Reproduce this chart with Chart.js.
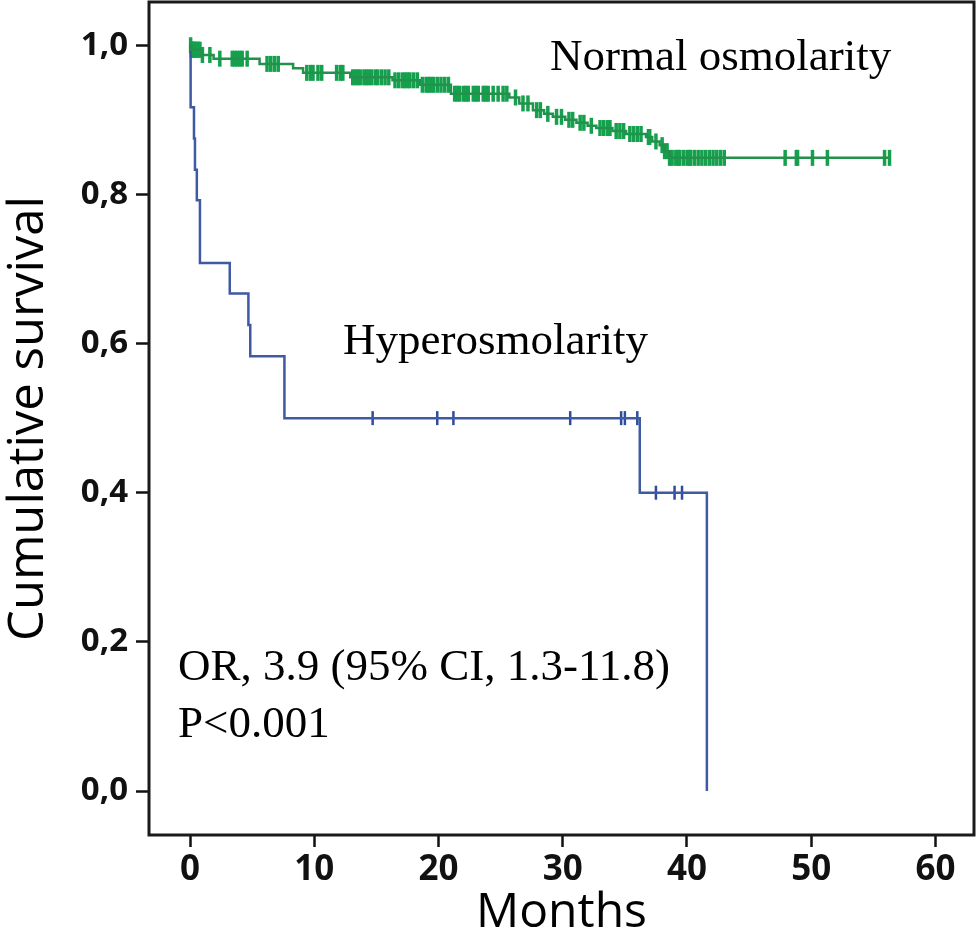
<!DOCTYPE html>
<html>
<head>
<meta charset="utf-8">
<script src="https://cdn.jsdelivr.net/npm/chart.js@4"></script>
<style>
  html, body { margin: 0; padding: 0; background: #fff; overflow: hidden; }
  #wrap { width: 976px; height: 942px; }
</style>
</head>
<body>
<div id="wrap"><canvas id="kmChart" width="976" height="942"></canvas></div>
<script>
// Normal osmolarity: step times (months) and survival after each step
const normalT = [0, 0.1, 0.9, 1.9, 5.6, 8.3, 9.1, 12.9, 16.3, 18.5, 21.0, 25.7, 26.5, 27.6, 28.5, 29.2, 30.2, 31.1, 32.0, 32.7, 34.0, 35.1, 36.7, 37.2, 37.8, 38.2, 38.6, 56.3];
const normalS = [1.0, 0.994, 0.987, 0.982, 0.975, 0.969, 0.963, 0.957, 0.953, 0.947, 0.935, 0.93, 0.922, 0.913, 0.908, 0.904, 0.9, 0.896, 0.892, 0.889, 0.885, 0.881, 0.877, 0.871, 0.866, 0.858, 0.849, 0.849];
// censored cases (months)
const normalCens = [0.05, 0.1, 0.15, 0.2, 0.25, 0.3, 0.4, 0.5, 0.6, 0.7, 0.8, 1.0, 1.6, 2.4, 3.4, 3.6, 3.8, 4.0, 4.2, 4.6, 6.2, 6.5, 6.8, 7.1,
  9.4, 9.7, 9.9, 10.3, 10.6, 11.8, 12.1, 12.3, 13.1, 13.3, 13.5, 13.7, 14.0, 14.2, 14.4, 14.6, 14.9, 15.1, 15.4, 15.7, 16.0, 16.5, 16.8,
  17.1, 17.3, 17.5, 17.7, 18.0, 18.3, 18.7, 19.0, 19.2, 19.4, 19.6, 19.9, 20.2, 20.5, 20.8, 21.3, 21.5, 21.7, 22.0, 22.2, 22.4, 22.8, 23.0, 23.2, 23.6,
  23.8, 24.0, 24.4, 24.8, 25.2, 25.5, 26.2, 26.8, 27.2, 27.9, 28.2, 28.8, 29.5, 29.9, 30.5, 30.8, 31.4, 31.7, 32.3, 33.0, 33.3,
  33.6, 33.8, 34.3, 34.6, 34.9, 35.4, 35.7, 36.0, 36.3, 36.9, 37.0, 37.5, 38.0, 38.2, 38.4, 38.6, 38.8, 39.1, 39.3, 39.4, 39.7, 40.0, 40.2, 40.3,
  40.6, 40.9, 41.2, 41.5, 41.8, 42.1, 42.4, 42.7, 43.0, 47.9, 48.8, 48.9, 50.1, 51.3, 55.9, 56.3];

// Hyperosmolarity
const hyperT = [0, 0.05, 0.32, 0.4, 0.55, 0.8, 3.2, 4.7, 4.85, 7.6, 36.2, 41.6];
const hyperS = [1.0, 0.917, 0.875, 0.833, 0.792, 0.708, 0.667, 0.625, 0.583, 0.5, 0.4, 0.0];
const hyperCens = [14.7, 19.9, 21.2, 30.6, 34.7, 35.0, 36.0, 37.5, 39.0, 39.6];

const xTicks = [0, 10, 20, 30, 40, 50, 60];
const yTicks = [0, 0.2, 0.4, 0.6, 0.8, 1.0];

const greenLine = '#23904c';
const greenMark = '#14a04c';
const blueLine = '#3d5aa3';
const blueMark = '#2e4c9c';

// survival value at time t (last step at or before t)
function survAt(T, S, t) {
    let v = S[0];
    for (let i = 0; i < T.length; i++) {
        if (T[i] <= t) v = S[i];
    }
    return v;
}

const toPts = (T, S) => T.map((t, i) => ({ x: t, y: S[i] }));
const censPts = (C, T, S) => C.map(t => ({ x: t, y: survAt(T, S, t) }));

// frame round the plot area + text notes
const framePlugin = {
    id: 'frame',
    afterDraw(chart) {
        const { ctx, chartArea: a } = chart;
        ctx.save();
        ctx.strokeStyle = '#1a1a1a';
        ctx.lineWidth = 3;
        ctx.strokeRect(a.left, a.top, a.right - a.left, a.bottom - a.top);

        ctx.fillStyle = '#000';
        ctx.font = '45px "Liberation Serif", "Times New Roman", serif';
        ctx.textBaseline = 'alphabetic';
        ctx.textAlign = 'left';
        ctx.fillText('Normal osmolarity', 550, 70);
        ctx.fillText('Hyperosmolarity', 343, 354);
        ctx.fillText('OR, 3.9 (95% CI, 1.3-11.8)', 178, 680);
        ctx.fillText('P<0.001', 178, 737);
        ctx.restore();
    }
};

const ctx = document.getElementById('kmChart').getContext('2d');
new Chart(ctx, {
    type: 'line',
    data: {
        datasets: [
            {
                label: 'Normal osmolarity',
                data: toPts(normalT, normalS),
                borderColor: greenLine,
                borderWidth: 2.5,
                stepped: 'before',
                pointRadius: 0,
                fill: false
            },
            {
                label: 'Hyperosmolarity',
                data: toPts(hyperT, hyperS),
                borderColor: blueLine,
                borderWidth: 2.5,
                stepped: 'before',
                pointRadius: 0,
                fill: false
            },
            {
                label: 'Normal censored',
                data: censPts(normalCens, normalT, normalS),
                showLine: false,
                pointStyle: 'line',
                rotation: 90,
                pointRadius: 8,
                borderColor: greenMark,
                pointBorderWidth: 3.5
            },
            {
                label: 'Hyper censored',
                data: censPts(hyperCens, hyperT, hyperS),
                showLine: false,
                pointStyle: 'line',
                rotation: 90,
                pointRadius: 7,
                borderColor: blueMark,
                pointBorderWidth: 2.5
            }
        ]
    },
    options: {
        responsive: false,
        animation: false,
        layout: { autoPadding: false, padding: { top: 2, right: 2, left: 0, bottom: 0 } },
        plugins: {
            legend: { display: false },
            tooltip: { enabled: false }
        },
        scales: {
            x: {
                type: 'linear',
                min: -3.3,
                max: 63.1,
                afterBuildTicks: s => { s.ticks = xTicks.map(v => ({ value: v })); },
                afterFit: s => { s.height = 107; s.paddingLeft = 0; s.paddingRight = 0; },
                border: { display: false },
                grid: { drawOnChartArea: false, tickLength: 12, tickColor: '#111', tickWidth: 2.5 },
                ticks: {
                    color: '#111',
                    padding: 2,
                    font: { family: '"Open Sans", sans-serif', size: 35, weight: 'bold' },
                    callback: v => String(v)
                },
                title: {
                    display: true,
                    text: 'Months',
                    color: '#000',
                    padding: 0,
                    font: { family: '"Open Sans", sans-serif', size: 48 }
                }
            },
            y: {
                type: 'linear',
                min: -0.059,
                max: 1.058,
                afterBuildTicks: s => { s.ticks = yTicks.map(v => ({ value: v })); },
                afterFit: s => { s.width = 149; s.paddingTop = 0; s.paddingBottom = 0; },
                border: { display: false },
                grid: { drawOnChartArea: false, tickLength: 13, tickColor: '#111', tickWidth: 2.5 },
                ticks: {
                    color: '#111',
                    padding: 8,
                    font: { family: '"Open Sans", sans-serif', size: 33, weight: 'bold' },
                    callback: v => v.toFixed(1).replace('.', ',')
                },
                title: {
                    display: true,
                    text: 'Cumulative survival',
                    color: '#000',
                    padding: 0,
                    font: { family: '"Open Sans", sans-serif', size: 49 }
                }
            }
        }
    },
    plugins: [framePlugin]
});
</script>
</body>
</html>
